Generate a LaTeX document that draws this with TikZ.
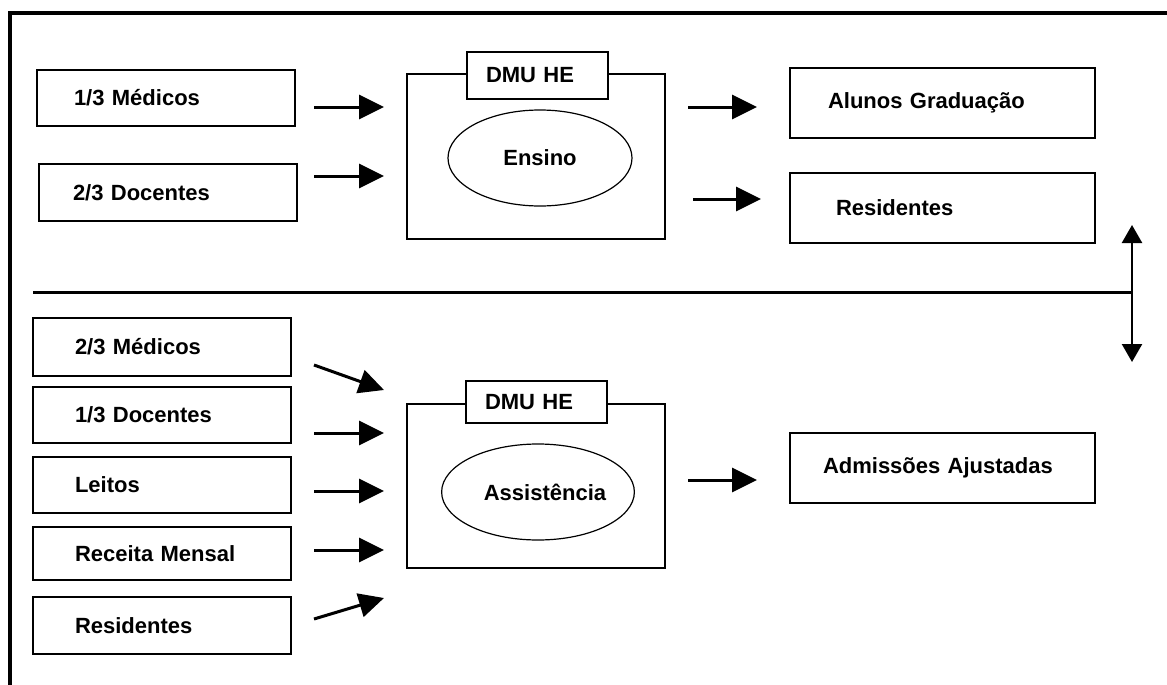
\documentclass[tikz,border=0pt]{standalone}
\usepackage{fontspec}
\setmainfont{Liberation Sans}
\usetikzlibrary{arrows.meta,shapes.geometric}

\tikzset{
  box/.style={draw, line width=1pt, inner ysep=0pt, align=left,
    font=\fontsize{11pt}{13pt}\selectfont\bfseries},
  dmubox/.style={draw, line width=1pt, minimum width=129pt, inner sep=0pt},
  dmutag/.style={draw, line width=1pt, fill=white, minimum width=70.5pt,
    text width=51.5pt, inner xsep=9.5pt, inner ysep=0pt, align=left,
    font=\fontsize{11pt}{13pt}\selectfont\bfseries},
  oval/.style={draw, ellipse, line width=0.6pt, inner sep=0pt,
    font=\fontsize{11pt}{13pt}\selectfont\bfseries},
  arr/.style={line width=1.5pt, -{Triangle[length=12.5pt,width=12pt]}},
  darr/.style={line width=1.2pt,
    {Triangle[length=9pt,width=10pt]}-{Triangle[length=9pt,width=10pt]}},
}

\begin{document}
\begin{tikzpicture}[x=0.5pt,y=-0.5pt]
\useasboundingbox (0,0) rectangle (1167,685);

% frame (top and left sides)
\draw[line width=2pt, line join=miter] (10,685) -- (10,13) -- (1167,13);

% ---------- Ensino ----------
\node[box, minimum height=28pt, text width=92pt, inner xsep=18.5pt] (med1) at (166,98) {1/3 Médicos};
\node[box, minimum height=28.5pt, text width=95pt, inner xsep=17pt] (doc1) at (168,192.5) {2/3 Docentes};

\node[dmubox, minimum height=82.5pt] (dmu1) at (536,156.5) {};
\node[dmutag, minimum height=23.5pt] (tag1) at (537.5,75.5) {DMU HE};
\node[oval, minimum width=92pt, minimum height=48pt] (ens) at (540,158) {Ensino};

\node[box, minimum height=35pt, text width=114.5pt, inner xsep=19pt] (alu) at (942.5,103) {Alunos Graduação};
\node[box, minimum height=35pt, text width=106.5pt, inner xsep=23pt] (res1) at (942.5,208) {Residentes};

\draw[arr] ([shift={(18,9)}]med1.east) -- ([shift={(-22,-49.5)}]dmu1.west);
\draw[arr] ([shift={(16,-16.5)}]doc1.east) -- ([shift={(-22,19.5)}]dmu1.west);
\draw[arr] ([shift={(22,-49.5)}]dmu1.east) -- ([shift={(-32,4)}]alu.west);
\draw[arr] ([shift={(27,42.5)}]dmu1.east) -- ([shift={(-28,-9)}]res1.west);

% ---------- divider ----------
\coordinate (divL) at (33,292);
\coordinate (divR) at (1132,292);
\coordinate (upT) at (1132,225);
\coordinate (dnT) at (1132,362);
\draw[line width=1.5pt] (divL) -- (divR);
\draw[darr] (upT) -- (dnT);

% ---------- Assistencia ----------
\node[box, minimum height=29pt, text width=87pt, inner xsep=21pt] (med2) at (162,347) {2/3 Médicos};
\node[box, minimum height=28pt, text width=87pt, inner xsep=21pt] (doc2) at (162,415) {1/3 Docentes};
\node[box, minimum height=28pt, text width=87pt, inner xsep=21pt] (lei) at (162,485) {Leitos};
\node[box, minimum height=26.5pt, text width=87pt, inner xsep=21pt] (rec) at (162,553.5) {Receita Mensal};
\node[box, minimum height=28.5pt, text width=87pt, inner xsep=21pt] (res2) at (162,625.5) {Residentes};

\node[dmubox, minimum height=82pt] (dmu2) at (536,486) {};
\node[dmutag, minimum height=21pt] (tag2) at (536.5,402) {DMU HE};
\node[oval, minimum width=94pt, minimum height=48pt] (ass) at (538,492) {\hspace*{7pt}Assistência};

\node[box, minimum height=35pt, text width=119.5pt, inner xsep=16.5pt] (adm) at (942.5,468) {Admissões Ajustadas};

\draw[arr] ([shift={(22,18)}]med2.east) -- ([shift={(-22,-96)}]dmu2.west);
\draw[arr] ([shift={(22,18)}]doc2.east) -- ([shift={(-22,-53)}]dmu2.west);
\draw[arr] ([shift={(22,6)}]lei.east) -- ([shift={(-22,5)}]dmu2.west);
\draw[arr] ([shift={(22,-3.5)}]rec.east) -- ([shift={(-22,64)}]dmu2.west);
\draw[arr] ([shift={(22,-6.5)}]res2.east) -- ([shift={(-22,112)}]dmu2.west);
\draw[arr] ([shift={(22,-6)}]dmu2.east) -- ([shift={(-32,12)}]adm.west);
\end{tikzpicture}
\end{document}
